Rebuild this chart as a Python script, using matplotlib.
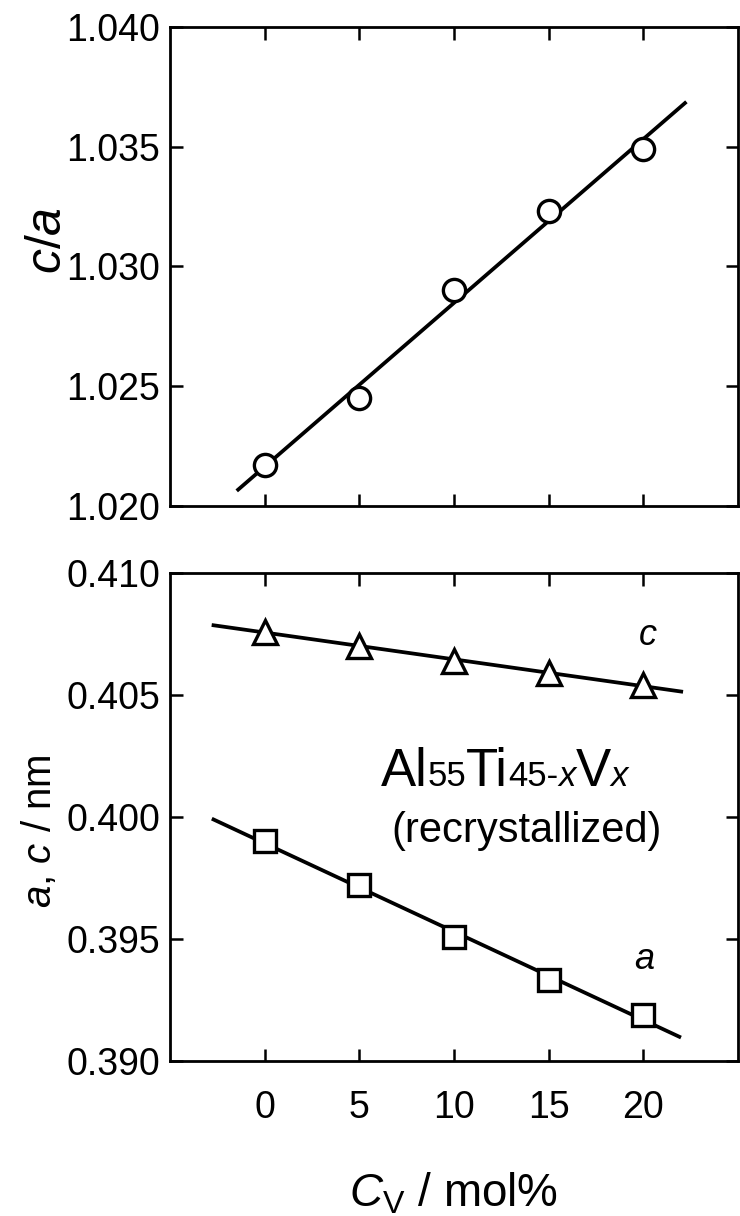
import matplotlib
matplotlib.use("Agg")
import matplotlib.pyplot as plt
import numpy as np

plt.rcParams["font.family"] = ["Liberation Sans", "DejaVu Sans"]
plt.rcParams["mathtext.fontset"] = "custom"
plt.rcParams["mathtext.rm"] = "Liberation Sans"
plt.rcParams["mathtext.it"] = "Liberation Sans:italic"

# V content (mol%)
cv = [0, 5, 10, 15, 20]
# axial ratio c/a
c_over_a = [1.0217, 1.0245, 1.0290, 1.0323, 1.0349]
# lattice parameters (nm)
lat_c = [0.4076, 0.4070, 0.4064, 0.4059, 0.4054]
lat_a = [0.3990, 0.3972, 0.3951, 0.3933, 0.3919]

xticks = [0, 5, 10, 15, 20]
yticks_top = [1.020, 1.025, 1.030, 1.035, 1.040]
yticks_bot = [0.390, 0.395, 0.400, 0.405, 0.410]

fig = plt.figure(figsize=(7.4, 12.16), dpi=100)
ax1 = fig.add_axes([0.2297, 0.5839, 0.7676, 0.3939])
ax2 = fig.add_axes([0.2297, 0.1275, 0.7676, 0.4013])


def fitline(ax, x, y, x0, x1):
    p = np.polyfit(x, y, 1)
    xs = np.array([x0, x1])
    ax.plot(xs, np.polyval(p, xs), color="black", lw=2.7, zorder=2)


mk = dict(ls="none", mfc="white", mec="black", mew=2.4, zorder=3)

fitline(ax1, cv, c_over_a, -1.4, 22.2)
ax1.plot(cv, c_over_a, marker="o", ms=16, **mk)

fitline(ax2, cv, lat_c, -2.7, 22.0)
ax2.plot(cv, lat_c, marker="^", ms=17, **mk)
fitline(ax2, cv, lat_a, -2.7, 21.9)
ax2.plot(cv, lat_a, marker="s", ms=16, **mk)

for ax in (ax1, ax2):
    ax.set_xlim(-5, 25)
    ax.set_xticks(xticks)
    ax.tick_params(direction="in", top=True, right=True, length=9, width=1.8,
                   labelsize=27, pad=7)
    for s in ax.spines.values():
        s.set_linewidth(2.0)

ax1.set_ylim(1.020, 1.040)
ax1.set_yticks(yticks_top)
ax1.set_yticklabels(["%.3f" % v for v in yticks_top])
ax1.set_xticklabels([])

ax2.set_ylim(0.390, 0.410)
ax2.set_yticks(yticks_bot)
ax2.set_yticklabels(["%.3f" % v for v in yticks_bot])
ax2.tick_params(axis="x", pad=21)

ax1.set_ylabel(r"$c/a$", fontsize=36)
ax1.yaxis.set_label_coords(-0.175, 0.555)
ax2.set_ylabel(r"$a$, $c$ / nm", fontsize=29)
ax2.yaxis.set_label_coords(-0.195, 0.47)
ax2.set_xlabel(r"$C_{\mathrm{V}}$ / mol%", fontsize=33, labelpad=32)

# series labels
ax2.text(20.26, 0.40706, "c", style="italic", fontsize=26, ha="center", va="baseline")
ax2.text(20.05, 0.39376, "a", style="italic", fontsize=26, ha="center", va="baseline")

# composition label, pieces chained one after another
base_y = 0.40125
pieces = [("Al", 38, "normal"), ("55", 25, "normal"), ("Ti", 38, "normal"),
          ("45-", 25, "normal"), ("x", 25, "italic"), ("V", 38, "normal"),
          ("x", 25, "italic")]
t = None
for s, fs, st in pieces:
    if t is None:
        t = ax2.text(6.12, base_y, s, fontsize=fs, style=st, ha="left", va="baseline")
    else:
        t = ax2.annotate(s, xy=(1, base_y), xycoords=(t, "data"), fontsize=fs,
                         style=st, ha="left", va="baseline")
ax2.text(13.83, 0.39896, "(recrystallized)", fontsize=30, ha="center", va="baseline")

fig.savefig("out.png", dpi=100)
